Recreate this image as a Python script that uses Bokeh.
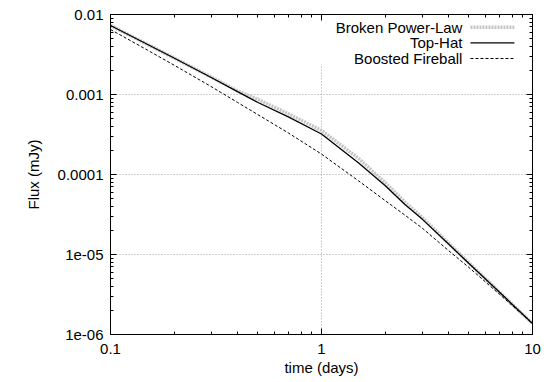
from bokeh.plotting import figure
from bokeh.models import LogAxis, FixedTicker, BoxAnnotation, Label, CustomJSTickFormatter
from bokeh.embed import file_html
from bokeh.resources import INLINE

# ---- data ----
time_days = [0.1, 0.15, 0.2, 0.3, 0.4, 0.5, 0.7, 1.0, 1.5, 2.0, 2.5, 3.0, 4.0, 5.0, 7.0, 10.0]
broken_power_law = [7.29e-3, 4.22e-3, 2.86e-3, 1.655e-3, 1.11e-3, 8.66e-4, 5.70e-4, 3.55e-4,
                    1.585e-4, 7.94e-5, 4.47e-5, 2.90e-5, 1.39e-5, 7.83e-6, 3.35e-6, 1.37e-6]
top_hat = [7.29e-3, 4.22e-3, 2.86e-3, 1.63e-3, 1.087e-3, 7.94e-4, 5.22e-4, 3.21e-4,
           1.39e-4, 7.29e-5, 4.16e-5, 2.77e-5, 1.35e-5, 7.72e-6, 3.35e-6, 1.37e-6]
boosted_fireball = [6.49e-3, 3.58e-3, 2.33e-3, 1.256e-3, 7.96e-4, 5.59e-4, 3.28e-4, 1.80e-4,
                    8.31e-5, 4.73e-5, 3.07e-5, 2.14e-5, 1.12e-5, 6.88e-6, 3.16e-6, 1.37e-6]

series_names = ["Broken Power-Law", "Top-Hat", "Boosted Fireball"]

x_ticks = [0.1, 1, 10]
x_tick_labels = ["0.1", "1", "10"]
y_ticks = [1e-6, 1e-5, 1e-4, 1e-3, 1e-2]
y_tick_labels = ["1e-06", "1e-05", "0.0001", "0.001", "0.01"]

FONT = "Liberation Sans"
FS = "15px"

x_lo, x_hi = 0.1, 10.0
y_lo, y_hi = 1e-6, 1e-2


def minors(lo_exp, hi_exp):
    return [k * 10.0 ** e for e in range(lo_exp, hi_exp) for k in range(2, 10)]


x_minor = minors(-1, 1)
y_minor = minors(-6, -2)

p = figure(width=548, height=382, x_axis_type="log", y_axis_type="log",
           x_range=(x_lo, x_hi), y_range=(y_lo, y_hi),
           output_backend="svg", toolbar_location=None,
           min_border_left=110, min_border_right=16, min_border_top=14, min_border_bottom=48)
p.background_fill_color = "white"
p.border_fill_color = "white"
p.outline_line_color = "black"
p.outline_line_width = 1


def fmt(tick_values, tick_texts):
    return CustomJSTickFormatter(args=dict(tv=tick_values, tl=tick_texts), code="""
        for (let i = 0; i < tv.length; i++) {
            if (Math.abs(Math.log10(tick) - Math.log10(tv[i])) < 1e-6) return tl[i];
        }
        return "";
    """)


def style_axis(ax, ticks, minor, show_labels):
    ax.ticker = FixedTicker(ticks=ticks, minor_ticks=minor)
    ax.major_tick_in = 6
    ax.major_tick_out = 0
    ax.minor_tick_in = 3
    ax.minor_tick_out = 0
    ax.axis_line_color = "black"
    ax.major_tick_line_color = "black"
    ax.minor_tick_line_color = "black"
    if show_labels:
        ax.major_label_text_font = FONT
        ax.major_label_text_font_size = FS
        ax.major_label_text_color = "black"
        ax.axis_label_text_font = FONT
        ax.axis_label_text_font_size = FS
        ax.axis_label_text_font_style = "normal"
        ax.axis_label_text_color = "black"
    else:
        ax.major_label_text_font_size = "1px"
        ax.major_label_text_alpha = 0
        ax.major_label_standoff = 0


xa = p.xaxis[0]
ya = p.yaxis[0]
style_axis(xa, x_ticks, x_minor, True)
style_axis(ya, y_ticks, y_minor, True)
xa.formatter = fmt(x_ticks, x_tick_labels)
ya.formatter = fmt(y_ticks, y_tick_labels)
xa.axis_label = "time (days)"
ya.axis_label = "Flux (mJy)"
xa.major_label_standoff = 9
xa.axis_label_standoff = 2
ya.major_label_standoff = 7
ya.axis_label_standoff = 13

top_ax = LogAxis()
right_ax = LogAxis()
style_axis(top_ax, x_ticks, x_minor, False)
style_axis(right_ax, y_ticks, y_minor, False)
p.add_layout(top_ax, "above")
p.add_layout(right_ax, "right")

p.xgrid.ticker = FixedTicker(ticks=x_ticks)
p.ygrid.ticker = FixedTicker(ticks=y_ticks)
for g in (p.xgrid, p.ygrid):
    g.grid_line_color = "#a0a0a0"
    g.grid_line_dash = "1 2"
    g.grid_line_width = 1

styles = [
    dict(line_color="#c4c4c4", line_width=3.5, line_dash="2 1"),
    dict(line_color="black", line_width=1.3),
    dict(line_color="black", line_width=1, line_dash="3 2"),
]
series = [broken_power_law, top_hat, boosted_fireball]
for ys, st in zip(series, styles):
    p.line(time_days, ys, **st)


# ---- gnuplot-style key (text right-aligned, sample to the right) ----
def fx(f):
    return x_lo * (x_hi / x_lo) ** f


def fy(f):  # f measured from the top
    return y_hi * (y_lo / y_hi) ** f


p.add_layout(BoxAnnotation(left=fx(0.48), right=fx(0.975), top=fy(0.022), bottom=fy(0.156),
                           fill_color="white", fill_alpha=1.0, line_alpha=0))
row_f = [0.040, 0.0885, 0.1375]
for name, st, rf in zip(series_names, styles, row_f):
    p.add_layout(Label(x=fx(0.834), y=fy(rf), text=name, text_align="right",
                       text_baseline="middle", text_font=FONT, text_font_size=FS,
                       text_color="black", level="overlay"))
    r = p.line([fx(0.853), fx(0.957)], [fy(rf), fy(rf)], **st)
    r.level = "overlay"

open("out.html", "w").write(file_html(p, INLINE))
